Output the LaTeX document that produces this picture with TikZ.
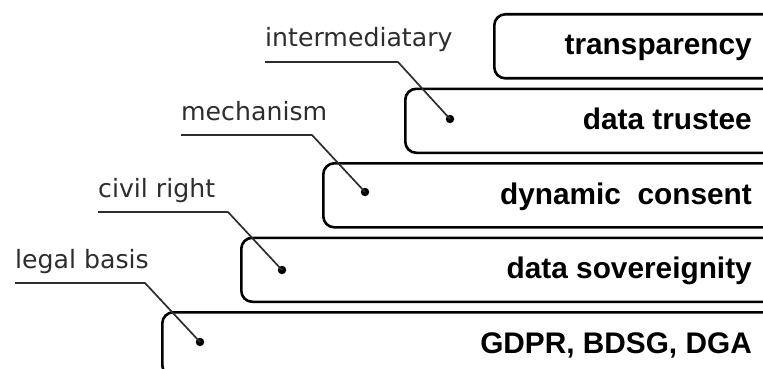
\documentclass[tikz,border=0pt]{standalone}
\usepackage{fontspec}
\setmainfont{DejaVu Sans}
\newfontfamily\boxfont{Liberation Sans}
\definecolor{leadgray}{RGB}{45,45,45}
\begin{document}
\begin{tikzpicture}[x=1pt,y=-1pt,
  layerbox/.style={draw=black, line width=2.6pt, rounded corners=11pt,
    minimum width=680pt, minimum height=64pt, anchor=north west, inner sep=0pt},
  boxtxt/.style={anchor=base east, inner sep=0pt, font=\boxfont\bfseries\fontsize{29.8}{30}\selectfont},
  lbl/.style={anchor=base west, inner sep=0pt, text=leadgray, font=\fontsize{25.2}{26}\selectfont},
  lead/.style={draw=leadgray, line width=1.7pt},
  dot/.style={circle, fill=black, inner sep=0pt, minimum size=8.5pt}]
\useasboundingbox (0,0) rectangle (763,369);
\clip (0,0) rectangle (763,369);

% stacked layers, each shifted left and down; the right ends run off the page
\node[layerbox] (b1) at (493,13)  {};
\node[layerbox] (b2) at (404,87.5) {};
\node[layerbox] (b3) at (322,162) {};
\node[layerbox] (b4) at (240,236.5) {};
\node[layerbox] (b5) at (161,311) {};

\node[boxtxt] (t1) at (752,55)    {transparency};
\node[boxtxt] (t2) at (752,129.5) {data trustee};
\node[boxtxt] (t3) at (752,204)   {dynamic\ \ consent};
\node[boxtxt] (t4) at (752,278.5) {data sovereignity};
\node[boxtxt] (t5) at (752,353)   {GDPR, BDSG, DGA};

% callout labels
\node[lbl] (l1) at (265,47)  {intermediatary};
\node[lbl] (l2) at (181,120) {mechanism};
\node[lbl] (l3) at (98,197)  {civil right};
\node[lbl] (l4) at (15,268)  {legal basis};

% callout knees and dots
\coordinate (k1) at (398,62);
\coordinate (k2) at (312,135);
\coordinate (k3) at (228,212);
\coordinate (k4) at (145,283);
\node[dot] (d1) at (450,119) {};
\node[dot] (d2) at (365,192) {};
\node[dot] (d3) at (282,270) {};
\node[dot] (d4) at (200,342) {};

\draw[lead] (l1.west |- k1) -- (k1) -- (d1.center);
\draw[lead] (l2.west |- k2) -- (k2) -- (d2.center);
\draw[lead] (l3.west |- k3) -- (k3) -- (d3.center);
\draw[lead] (l4.west |- k4) -- (k4) -- (d4.center);
\end{tikzpicture}
\end{document}
